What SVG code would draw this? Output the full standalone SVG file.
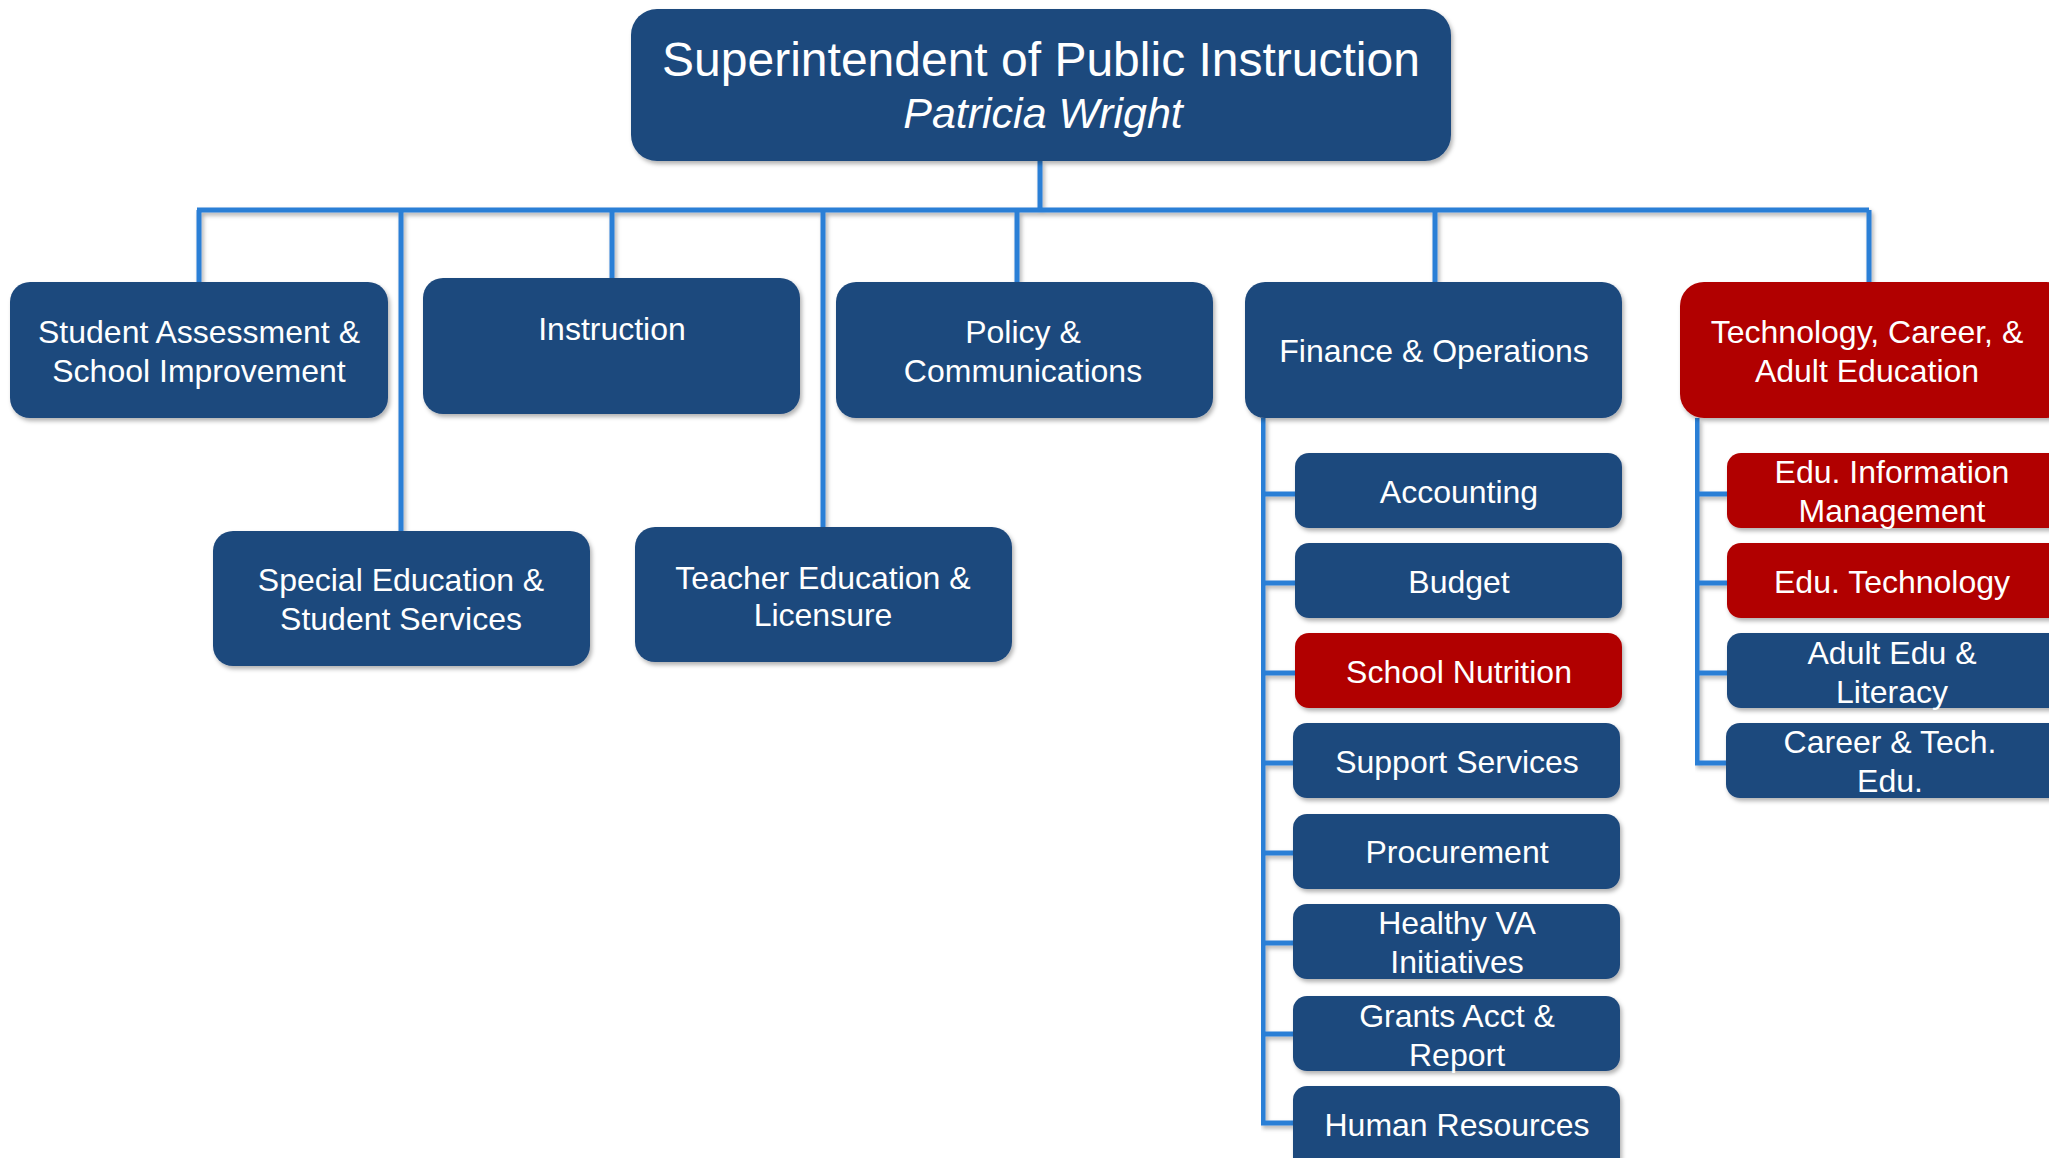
<svg xmlns="http://www.w3.org/2000/svg" width="2049" height="1158" viewBox="0 0 2049 1158">
<defs>
<filter id="sh" x="-5%" y="-5%" width="112%" height="115%">
<feDropShadow dx="2" dy="3" stdDeviation="2" flood-color="#000" flood-opacity="0.3"/>
</filter>
</defs>
<style>
.b{fill:#1F497D;filter:url(#sh)}
.r{fill:#B10000;filter:url(#sh)}
.c{stroke:#2A7FD6;stroke-width:5;fill:none;filter:url(#sh)}
text{font-family:"Liberation Sans",Arial,sans-serif;fill:#fff;text-anchor:middle}
.t1{font-size:48px}
.t1i{font-size:43px;font-style:italic}
.t2{font-size:32px}
</style>
<rect width="2049" height="1158" fill="#fff"/>
<g id="connectors">
<path class="c" d="M1040 161V210M197 210H1869M199 210V282M401 210V531M612 210V278M823 210V527M1017 210V282M1435 210V282M1869 210V282"/>
<path class="c" d="M1263 418V1123H1293M1263 494H1295M1263 583H1295M1263 673H1295M1263 763H1293M1263 853H1293M1263 943H1293M1263 1034H1293"/>
<path class="c" d="M1697 418V763H1726M1697 494H1727M1697 583H1727M1697 673H1727"/>
</g>
<g id="superintendent"><rect class="b" x="631" y="9" width="820" height="152" rx="26"/><text class="t1" x="1041" y="76">Superintendent of Public Instruction</text><text class="t1i" x="1043" y="128">Patricia Wright</text></g>
<g id="student-assessment"><rect class="b" x="10" y="282" width="378" height="136" rx="20"/><text class="t2" x="199" y="343">Student Assessment &amp;</text><text class="t2" x="199" y="382">School Improvement</text></g>
<g id="instruction"><rect class="b" x="423" y="278" width="377" height="136" rx="20"/><text class="t2" x="612" y="340">Instruction</text></g>
<g id="policy"><rect class="b" x="836" y="282" width="377" height="136" rx="20"/><text class="t2" x="1023" y="343">Policy &amp;</text><text class="t2" x="1023" y="382">Communications</text></g>
<g id="finance"><rect class="b" x="1245" y="282" width="377" height="136" rx="20"/><text class="t2" x="1434" y="362">Finance &amp; Operations</text></g>
<g id="technology"><rect class="r" x="1680" y="282" width="390" height="136" rx="24"/><text class="t2" x="1867" y="343">Technology, Career, &amp;</text><text class="t2" x="1867" y="382">Adult Education</text></g>
<g id="special-education"><rect class="b" x="213" y="531" width="377" height="135" rx="20"/><text class="t2" x="401" y="591">Special Education &amp;</text><text class="t2" x="401" y="630">Student Services</text></g>
<g id="teacher-education"><rect class="b" x="635" y="527" width="377" height="135" rx="20"/><text class="t2" x="823" y="589">Teacher Education &amp;</text><text class="t2" x="823" y="626">Licensure</text></g>
<g id="accounting"><rect class="b" x="1295" y="453" width="327" height="75" rx="14"/><text class="t2" x="1459" y="503">Accounting</text></g>
<g id="budget"><rect class="b" x="1295" y="543" width="327" height="75" rx="14"/><text class="t2" x="1459" y="593">Budget</text></g>
<g id="school-nutrition"><rect class="r" x="1295" y="633" width="327" height="75" rx="14"/><text class="t2" x="1459" y="683">School Nutrition</text></g>
<g id="support-services"><rect class="b" x="1293" y="723" width="327" height="75" rx="14"/><text class="t2" x="1457" y="773">Support Services</text></g>
<g id="procurement"><rect class="b" x="1293" y="814" width="327" height="75" rx="14"/><text class="t2" x="1457" y="863">Procurement</text></g>
<g id="healthy-va"><rect class="b" x="1293" y="904" width="327" height="75" rx="14"/><text class="t2" x="1457" y="934">Healthy VA</text><text class="t2" x="1457" y="973">Initiatives</text></g>
<g id="grants"><rect class="b" x="1293" y="996" width="327" height="75" rx="14"/><text class="t2" x="1457" y="1027">Grants Acct &amp;</text><text class="t2" x="1457" y="1066">Report</text></g>
<g id="human-resources"><rect class="b" x="1293" y="1086" width="327" height="90" rx="14"/><text class="t2" x="1457" y="1136">Human Resources</text></g>
<g id="edu-info"><rect class="r" x="1727" y="453" width="340" height="75" rx="14"/><text class="t2" x="1892" y="483">Edu. Information</text><text class="t2" x="1892" y="522">Management</text></g>
<g id="edu-tech"><rect class="r" x="1727" y="543" width="340" height="75" rx="14"/><text class="t2" x="1892" y="593">Edu. Technology</text></g>
<g id="adult-edu"><rect class="b" x="1727" y="633" width="340" height="75" rx="14"/><text class="t2" x="1892" y="664">Adult Edu &amp;</text><text class="t2" x="1892" y="703">Literacy</text></g>
<g id="career-tech"><rect class="b" x="1726" y="723" width="340" height="75" rx="14"/><text class="t2" x="1890" y="753">Career &amp; Tech.</text><text class="t2" x="1890" y="792">Edu.</text></g>
</svg>
